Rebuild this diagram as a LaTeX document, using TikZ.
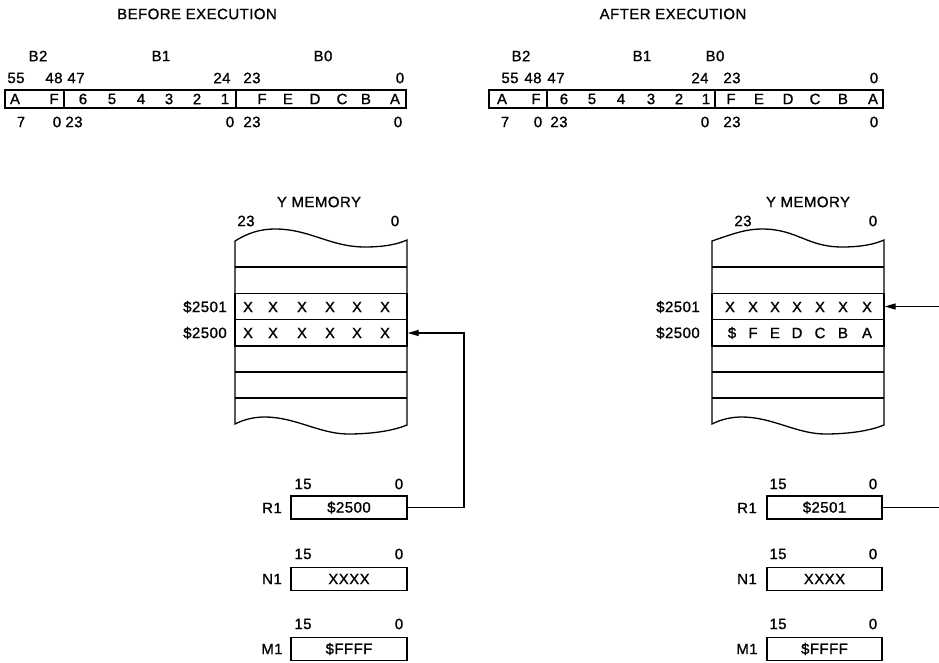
\documentclass[tikz,border=0pt]{standalone}
\usepackage{fontspec}
\setmainfont{Liberation Sans}[LetterSpace=3.0, FakeBold=1.0]
\usepackage{tikz}
\usetikzlibrary{arrows.meta}

\begin{document}
\begin{tikzpicture}[x=1pt, y=-1pt, line width=1.3pt,
  txt/.style={inner sep=0pt, font=\fontsize{15}{17}\selectfont},
  field/.style={draw, inner sep=0pt, minimum height=18pt},
  memrow/.style={draw, inner sep=0pt, minimum width=172pt, minimum height=26.5pt},
  regbox/.style={draw, inner sep=0pt, minimum width=116pt, minimum height=23pt, font=\fontsize{15}{17}\selectfont},
  ptr/.style={-{Stealth[length=11pt, width=6pt, inset=0pt]}}]
  \useasboundingbox (0,0) rectangle (939,663);
  % titles
  \node[txt] (tbefore) at (197,14) {BEFORE EXECUTION};
  \node[txt] (tafter) at (673,14) {AFTER EXECUTION};
  % accumulator B, before
  \node[txt] (nbL2) at (38,56) {B2};
  \node[txt] (nbL1) at (161,56) {B1};
  \node[txt] (nbL0) at (323,56) {B0};
  \node[field, minimum width=59pt] (bL2) at (34.5,99) {};
  \node[field, minimum width=172pt] (bL1) at (150,99) {};
  \node[field, minimum width=170pt] (bL0) at (321,99) {};
  \foreach \ch/\cx [count=\i] in {A/15, F/54, 6/83, 5/112, 4/141, 3/169, 2/197, 1/225,
      F/262, E/288, D/315, C/342, B/366, A/395}
    \node[txt] (cL\i) at (\cx,99) {\ch};
  \foreach \lb/\cx [count=\i] in {55/16, 48/54, 47/76, 24/222, 23/252, 0/400}
    \node[txt] (hiL\i) at (\cx,78) {\lb};
  \foreach \lb/\cx [count=\i] in {7/21, 0/57, 23/74, 0/230, 23/252, 0/398}
    \node[txt] (loL\i) at (\cx,122) {\lb};
  % accumulator B, after
  \node[txt] (nbR2) at (521,56) {B2};
  \node[txt] (nbR1) at (642,56) {B1};
  \node[txt] (nbR0) at (715,56) {B0};
  \node[field, minimum width=58pt] (bR2) at (518,99) {};
  \node[field, minimum width=168pt] (bR1) at (631,99) {};
  \node[field, minimum width=168pt] (bR0) at (799,99) {};
  \foreach \ch/\cx [count=\i] in {A/502, F/536, 6/564, 5/592, 4/621, 3/651, 2/679, 1/706,
      F/731, E/759, D/788, C/815, B/843, A/873}
    \node[txt] (cR\i) at (\cx,99) {\ch};
  \foreach \lb/\cx [count=\i] in {55/510, 48/533, 47/556, 24/700, 23/732, 0/874}
    \node[txt] (hiR\i) at (\cx,78) {\lb};
  \foreach \lb/\cx [count=\i] in {7/505, 0/538, 23/559, 0/705, 23/732, 0/874}
    \node[txt] (loR\i) at (\cx,122) {\lb};
  % Y memory frames
  \foreach \dx/\px in {0/0,477/10} {
    \draw (235+\dx,241) .. controls (248+\dx+\px,233) and (260+\dx+\px,229) .. (275+\dx+\px,229)
      .. controls (310+\dx+\px,229) and (330+\dx,247) .. (365+\dx,247)
      .. controls (385+\dx,247) and (398+\dx,244) .. (407+\dx,240) -- (407+\dx,425)
      .. controls (395+\dx,430) and (375+\dx,434) .. (348+\dx,434)
      .. controls (320+\dx,434) and (295+\dx,417) .. (265+\dx,417)
      .. controls (255+\dx,417) and (245+\dx,419) .. (235+\dx,424) -- cycle;
    \foreach \ly in {267,346,372,398}
      \draw (235+\dx,\ly) -- (407+\dx,\ly);
  }
  \node[txt] (ymL) at (319,202) {Y MEMORY};
  \node[txt] (ymLhi) at (246,221) {23};
  \node[txt] (ymLlo) at (395,221) {0};
  \node[memrow] (mL2501) at (321,306.5) {};
  \node[memrow] (mL2500) at (321,333) {};
  \node[txt] (aL2501) at (205,307) {\$2501};
  \node[txt] (aL2500) at (205,333) {\$2500};
  \foreach \cx [count=\i] in {248,273,302,330,357,385} {
    \node[txt] (xLa\i) at (\cx,307) {X};
    \node[txt] (xLb\i) at (\cx,333) {X};
  }
  \node[txt] (ymR) at (808,202) {Y MEMORY};
  \node[txt] (ymRhi) at (743,221) {23};
  \node[txt] (ymRlo) at (873,221) {0};
  \node[memrow] (mR2501) at (798,306.5) {};
  \node[memrow] (mR2500) at (798,333) {};
  \node[txt] (aR2501) at (678,307) {\$2501};
  \node[txt] (aR2500) at (678,333) {\$2500};
  \foreach \cx [count=\i] in {730,753,775,797,820,843,867}
    \node[txt] (xRa\i) at (\cx,307) {X};
  \foreach \ch/\cx [count=\i] in {\$/732, F/753, E/775, D/797, C/820, B/843, A/867}
    \node[txt] (xRb\i) at (\cx,333) {\ch};
  % address registers, before
  \node[regbox] (rL) at (349,507.5) {\$2500};
  \node[regbox] (nL) at (349,579) {XXXX};
  \node[regbox] (mL) at (349,649) {\$FFFF};
  \node[txt] (rLname) at (272,508) {R1};
  \node[txt] (nLname) at (272,579) {N1};
  \node[txt] (mLname) at (272,649) {M1};
  \foreach \ry [count=\i] in {484,554,624} {
    \node[txt] (rLhi\i) at (303,\ry) {15};
    \node[txt] (rLlo\i) at (399,\ry) {0};
  }
  % address registers, after
  \node[regbox, minimum width=115pt] (rR) at (824.5,507.5) {\$2501};
  \node[regbox, minimum width=115pt] (nR) at (824.5,579) {XXXX};
  \node[regbox, minimum width=115pt] (mR) at (824.5,649) {\$FFFF};
  \node[txt] (rRname) at (747,508) {R1};
  \node[txt] (nRname) at (747,579) {N1};
  \node[txt] (mRname) at (747,649) {M1};
  \foreach \ry [count=\i] in {484,554,624} {
    \node[txt] (rRhi\i) at (778,\ry) {15};
    \node[txt] (rRlo\i) at (873,\ry) {0};
  }
  % pointers
  \coordinate (turnL) at (464,333);
  \draw[ptr] (rL.east) -| (turnL) -- (mL2500.east);
  \coordinate (edgeA) at (939,306.5);
  \draw[ptr] (edgeA) -- (mR2501.east);
  \coordinate (edgeB) at (939,507.5);
  \draw (rR.east) -- (edgeB);
\end{tikzpicture}
\end{document}
